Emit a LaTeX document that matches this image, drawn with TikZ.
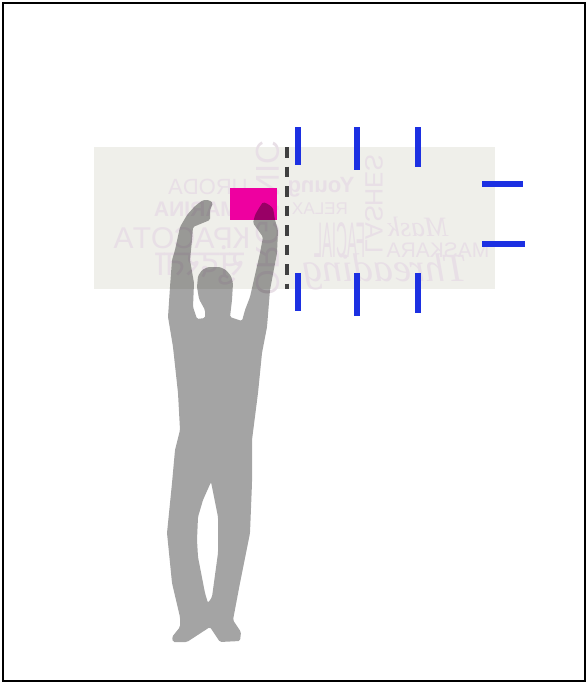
\documentclass[tikz,border=0pt]{standalone}
\usepackage{fontspec}
\setmainfont{Liberation Sans}
\newfontfamily\hindifont[Script=Devanagari]{Noto Sans}
\newfontfamily\cursivefont{Liberation Serif}
\usepackage{xcolor}
\usetikzlibrary{positioning}
\definecolor{panelgray}{RGB}{239,239,234}
\definecolor{wordpink}{RGB}{232,223,230}
\definecolor{figuregray}{RGB}{164,164,164}
\definecolor{targetpink}{RGB}{238,0,160}
\definecolor{tickblue}{RGB}{28,48,226}

\begin{document}
\begin{tikzpicture}[
  x=1pt, y=-1pt,
  frame/.style={draw=black, line width=2.6pt},
  panel/.style={fill=panelgray},
  word/.style={text=wordpink, inner sep=0pt, anchor=center, transform shape},
  tick/.style={draw=tickblue, line width=6pt},
  edge line/.style={draw=black!75, line width=3.2pt, dash pattern=on 10.5pt off 9pt},
]
\useasboundingbox (0,0) rectangle (587,683);

% --- Background panel ---
\fill[panel] (94,147) rectangle (495,289);

% --- Mirrored words on the panel ---
\begin{scope}[xscale=-1]
  \node[word, font=\fontsize{22}{22}\selectfont] (uroda) at (-208,187) {URODA};
  \node[word, font=\bfseries\fontsize{21}{21}\selectfont] (marina) at (-196,209) {MARINA};
  \node[word, font=\fontsize{30}{30}\selectfont] (krasota) at (-182,238) {КРАСОТА};
  \node[word, font=\hindifont\fontsize{36}{36}\selectfont] (hindi) at (-200,265) {सुंदरता};
  \node[word, font=\bfseries\fontsize{22}{22}\selectfont] (young) at (-321,187) {Young};
  \node[word, font=\fontsize{17}{17}\selectfont] (relax) at (-320,209) {RELAX};
  \node[word, font=\fontsize{50}{50}\selectfont] (facial) at (-340,240) {\scalebox{0.3}[1]{FACIAL}};
  \node[word, font=\cursivefont\itshape\fontsize{28}{28}\selectfont] (mask) at (-418,227) {Mask};
  \node[word, font=\fontsize{21}{21}\selectfont] (maskara) at (-438,250) {MASKARA};
  \node[word, font=\cursivefont\itshape\fontsize{40}{40}\selectfont] (threading) at (-385,272) {Threading};
  \node[word, font=\fontsize{25}{25}\selectfont, rotate=90] (lashes) at (-374,204) {LASHES};
  \node[word, font=\fontsize{33}{33}\selectfont, rotate=90] (organic) at (-268,218) {ORGANIC};
\end{scope}

% --- Target area ---
\fill[targetpink] (230,188) rectangle (277,220);

% --- Standing figure ---
\begin{scope}[blend mode=multiply]
\fill[figuregray, even odd rule, rounded corners=1.5pt]
  (213,203) -- (209,200) -- (203,200) -- (195,206) -- (187,215) -- (180,227)
  -- (175,250) -- (172,260) -- (170,287) -- (168,317) -- (173,347) -- (178,393)
  -- (180,430) -- (175,450) -- (172,483) -- (167,533) -- (172,583) -- (180,617)
  -- (180,627) -- (172,637) -- (173,642) -- (187,642) -- (210,627) -- (220,642)
  -- (240,641) -- (241,632) -- (233,620) -- (240,583) -- (250,533) -- (252,483)
  -- (252,440) -- (258,393) -- (262,353) -- (267,327) -- (270,290) -- (277,253)
  -- (278,230) -- (275,220) -- (273,208) -- (268,204) -- (263,202) -- (259,208)
  -- (255,215) -- (253,223) -- (263,237) -- (260,253) -- (250,297) -- (245,310)
  -- (242,321) -- (230,317) -- (232,300) -- (233,283) -- (231,276) -- (226,270)
  -- (220,267) -- (208,267) -- (202,270) -- (198,276) -- (197,287) -- (199,299)
  -- (205,310) -- (205,318) -- (197,319) -- (193,307)
  -- (194,283) -- (190,260) -- (192,240) -- (193,227) -- (210,220) -- (210,210)
  -- cycle
  (211,482) -- (218,517) -- (218,553) -- (212,597) -- (208,603) -- (205,593)
  -- (198,557) -- (197,540) -- (198,517) -- (203,500) -- cycle;
\end{scope}

% --- Dashed edge ---
\draw[edge line] (287,147) -- (287,289);

% --- Blue ticks, top row ---
\draw[tick] (298,127) -- (298,165);
\draw[tick] (357,127) -- (357,170);
\draw[tick] (417.5,127) -- (417.5,167);
% --- Blue ticks, bottom row ---
\draw[tick] (298,273) -- (298,311);
\draw[tick] (357,273) -- (357,316);
\draw[tick] (417.5,273) -- (417.5,313);
% --- Blue ticks, right side ---
\draw[tick] (482,183.5) -- (523,183.5);
\draw[tick] (482,243.5) -- (525,243.5);

% --- Outer frame ---
\draw[frame] (3,3) rectangle (585,681);

\end{tikzpicture}
\end{document}
